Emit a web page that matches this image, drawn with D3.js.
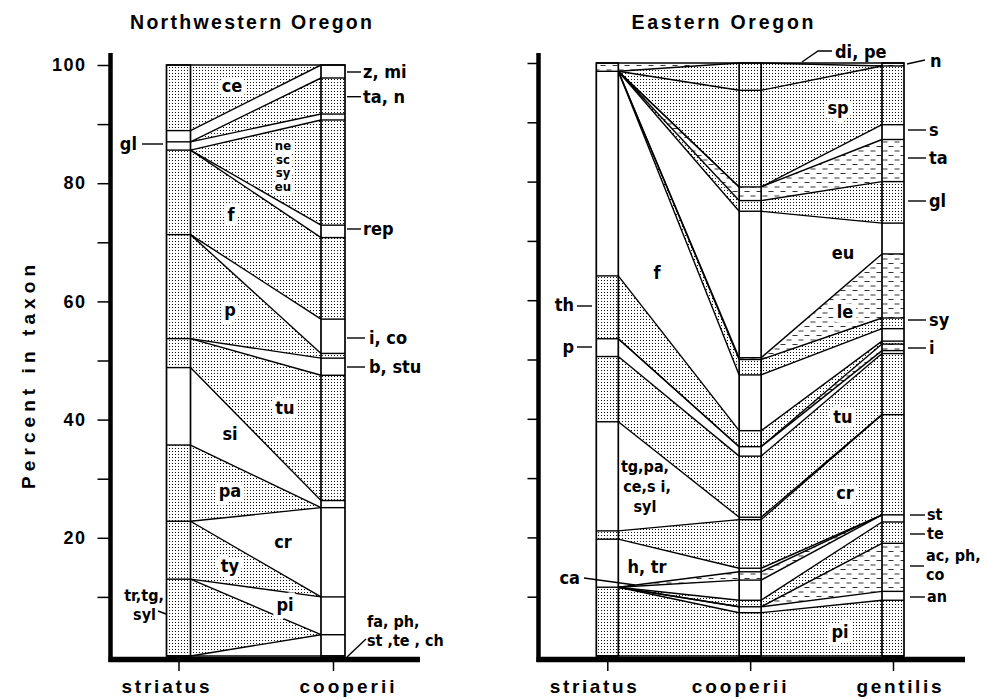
<!DOCTYPE html>
<html><head><meta charset="utf-8">
<script src="https://cdn.jsdelivr.net/npm/d3@7"></script>
<style>body{margin:0;background:#fff}</style>
</head><body>
<svg id="c" width="987" height="699"></svg>
<script>
// ---------------- DATA ----------------
// Northwestern Oregon: taxa stacked bottom -> top, percent in each hawk species
const nwSpecies = ["striatus", "cooperii"];
const nwTaxa = ["fa, ph, st, te, ch", "tr, tg, syl", "pi", "ty", "cr", "pa", "si", "tu", "b, stu", "p", "i, co", "f", "rep", "ne, sc, sy, eu", "gl", "ta, n", "z, mi", "ce"];
const nwStriatus = [0, 13.0, 0, 9.8, 0, 12.9, 13.1, 4.9, 0, 17.6, 0, 14.3, 0, 0, 1.4, 0, 1.9, 11.1];
const nwCooperii = [3.6, 0, 6.4, 0, 15.1, 0, 1.2, 21.2, 2.9, 0.8, 5.8, 13.8, 2.1, 17.8, 1.0, 6.1, 2.2, 0];
const nwShade = ["none","dot","none","dot","none","dot","none","dot","none","dot","none","dot","none","dot","none","dot","none","dot"];

// Eastern Oregon
const eoSpecies = ["striatus", "cooperii", "gentilis"];
const eoTaxa = ["pi","an","ac, ph, co","te","st","ca","h, tr","cr","tg, pa, ce, si, syl","tu","p","i","th","f","sy","le","eu","gl","ta","s","sp","di, pe","n"];
const eoStriatus = [11.6,0,0,0,0,0,8.1,1.4,18.4,11.0,3.0,0,10.6,34.5,0,0,0,0,0,0,0,0,1.4];
const eoCooperii = [7.3,1.0,0,1.1,3.4,1.4,0.6,8.2,0.4,10.3,1.6,0,2.7,9.4,2.6,0.3,24.7,1.8,2.3,0,16.3,4.6,0];
const eoGentilis = [9.4,1.5,8.1,3.6,1.2,0,0,16.9,0,10.3,0.5,1.1,0.5,2.1,1.8,10.8,5.2,7.0,7.1,2.5,9.9,0,0.5];
const eoShade = ["dot","none","dash","dot","none","dash","none","dot","none","dot","none","dash","dot","none","dot","dash","none","dot","dash","none","dot","dot","dash"];

const yTicks = [10,20,30,40,50,60,70,80,90,100];

// ---------------- DRAW ----------------
const svg = d3.select("#c");
const defs = svg.append("defs");
const pd = defs.append("pattern").attr("id","pdot").attr("width",3).attr("height",3).attr("patternUnits","userSpaceOnUse");
pd.append("rect").attr("width",3).attr("height",3).attr("fill","#fff");
pd.append("rect").attr("x",1).attr("y",1).attr("width",1).attr("height",1).attr("fill","#111");
const pdh = defs.append("pattern").attr("id","pdash").attr("width",12).attr("height",9).attr("patternUnits","userSpaceOnUse");
pdh.append("rect").attr("width",12).attr("height",9).attr("fill","#fff");
pdh.append("path").attr("d","M0.5,2.5H5.5M6.5,7H11.5").attr("stroke","#333").attr("stroke-width",1.1);
const fillOf = s => s==="dot" ? "url(#pdot)" : s==="dash" ? "url(#pdash)" : "#fff";

const LBL = "'Liberation Sans Narrow','DejaVu Sans Condensed','Arial Narrow',sans-serif";
const MAIN = "'Liberation Sans',Arial,sans-serif";

function drawPanel(opt) {
  const g = svg.append("g");
  const x = d3.scalePoint().domain(opt.species).range(opt.xr);
  const y = d3.scaleLinear().domain([0,100]).range(opt.yr);
  const bw = opt.bw;
  const stacks = opt.cols.map(v => { const c=[0]; v.forEach(d => c.push(c[c.length-1]+d)); return c; });
  const link = d3.line();
  // ribbons
  for (let i=0;i<opt.species.length-1;i++) {
    const x0 = x(opt.species[i]) + bw/2, x1 = x(opt.species[i+1]) - bw/2;
    const a = stacks[i], b = stacks[i+1];
    opt.shade.forEach((s,k) => {
      g.append("path")
        .attr("d", link([[x0,y(a[k])],[x1,y(b[k])],[x1,y(b[k+1])],[x0,y(a[k+1])]]) + "Z")
        .attr("fill", fillOf(s));
    });
    a.forEach((v,k) => {
      g.append("path").attr("d", link([[x0,y(a[k])],[x1,y(b[k])]]))
        .attr("stroke","#000").attr("stroke-width",1.4).attr("fill","none");
    });
  }
  // bars
  opt.species.forEach((sp,i) => {
    const xc = x(sp), st = stacks[i];
    opt.shade.forEach((s,k) => {
      if (opt.cols[i][k] > 0)
        g.append("rect").attr("x", xc-bw/2).attr("y", y(st[k+1]))
          .attr("width", bw).attr("height", y(st[k]) - y(st[k+1])).attr("fill", fillOf(s));
    });
    Array.from(new Set(st.map(v => +v.toFixed(3)))).forEach(v => {
      g.append("line").attr("x1", xc-bw/2).attr("x2", xc+bw/2).attr("y1", y(v)).attr("y2", y(v))
        .attr("stroke","#000").attr("stroke-width",1.4);
    });
    g.append("rect").attr("x", xc-bw/2).attr("y", y(100)).attr("width", bw).attr("height", y(0)-y(100))
      .attr("fill","none").attr("stroke","#000").attr("stroke-width",1.7);
  });
  // y axis
  const ax = d3.axisLeft(y).tickValues(yTicks).tickSize(opt.tickLen).tickPadding(11)
    .tickFormat(d => opt.showLabels && d % 20 === 0 ? d : "");
  const ag = g.append("g").attr("transform", `translate(${opt.axX},0)`).call(ax);
  ag.select(".domain").remove();
  ag.selectAll(".tick line").attr("stroke-width",1.5);
  ag.selectAll(".tick text").attr("font-family", MAIN).attr("font-weight","bold")
    .attr("font-size",18).attr("letter-spacing",1.5).attr("fill","#000");
  g.append("line").attr("x1",opt.axX).attr("x2",opt.axX).attr("y1",53).attr("y2",662)
    .attr("stroke","#000").attr("stroke-width",4.5);
  // x axis
  const bx = d3.axisBottom(x).tickSize(9).tickFormat("");
  const bg = g.append("g").attr("transform","translate(0,662)").call(bx);
  bg.select(".domain").remove();
  bg.selectAll(".tick line").attr("stroke-width",1.5);
  g.append("line").attr("x1",opt.axX-2).attr("x2",opt.axEnd).attr("y1",659.5).attr("y2",659.5)
    .attr("stroke","#000").attr("stroke-width",5.5);
  opt.species.forEach((sp,i) => {
    g.append("text").attr("x", x(sp) + opt.nameDx[i]).attr("y", 693).attr("text-anchor","middle")
      .attr("font-family", MAIN).attr("font-weight","bold").attr("font-size",19)
      .attr("textLength", opt.nameLen[i]).attr("lengthAdjust","spacing").text(sp);
  });
  // title
  g.append("text").attr("x", opt.titleX).attr("y", 29).attr("text-anchor","middle")
    .attr("font-family", MAIN).attr("font-weight","bold").attr("font-size",19.5)
    .attr("textLength", opt.titleLen).attr("lengthAdjust","spacing").text(opt.title);
  return g;
}

const gL = drawPanel({species: nwSpecies, cols: [nwStriatus, nwCooperii], shade: nwShade,
  xr: [178.5, 333], yr: [656, 65], bw: 24, axX: 110.5, axEnd: 420, tickLen: 13, showLabels: true,
  nameDx: [-13, 14], nameLen: [88, 95], title: "Northwestern Oregon", titleX: 251, titleLen: 242});
const gR = drawPanel({species: eoSpecies, cols: [eoStriatus, eoCooperii, eoGentilis], shade: eoShade,
  xr: [607.3, 893], yr: [656, 63], bw: 22, axX: 538.5, axEnd: 965, tickLen: 11, showLabels: false,
  nameDx: [-14, -11, 6], nameLen: [87, 95, 85], title: "Eastern Oregon", titleX: 722.5, titleLen: 182});

// y title
svg.append("text").attr("transform","translate(35,377) rotate(-90)").attr("text-anchor","middle")
  .attr("font-family", MAIN).attr("font-weight","bold").attr("font-size",19)
  .attr("textLength",224).attr("lengthAdjust","spacing").text("Percent in taxon");

// ---------------- ANNOTATIONS ----------------
function lbl(t, x, yc, anchor, halo, size) {
  const fs = size || 18;
  svg.append("text").attr("x", x).attr("y", yc + fs/3).attr("text-anchor", anchor || "middle")
    .attr("font-family", LBL).attr("font-weight","bold").attr("font-size", fs)
    .attr("stroke", halo ? "#fff" : "none").attr("stroke-width", halo ? 9 : 0)
    .attr("stroke-linejoin","round").attr("paint-order","stroke").attr("fill","#000").text(t);
}
function ptr(pts) {
  svg.append("path").attr("d", d3.line()(pts)).attr("fill","none").attr("stroke","#000").attr("stroke-width",1.4);
}
// Northwestern Oregon interior labels
[["ce",232,86],["f",231,215],["p",230,310],["tu",285,408],["si",230,434],["pa",230,491],
 ["cr",283,542],["ty",230,566],["pi",285,605]].forEach(d => lbl(d[0], d[1], d[2], "middle", true));
// stacked "ne sc sy eu" as one text block
const stk = svg.append("text").attr("x",283).attr("y",150).attr("text-anchor","middle")
  .attr("font-family", LBL).attr("font-weight","bold").attr("font-size",13)
  .attr("stroke","#fff").attr("stroke-width",7).attr("stroke-linejoin","round").attr("paint-order","stroke");
["ne","sc","sy","eu"].forEach((t,i) => stk.append("tspan").attr("x",283).attr("dy", i ? 13.5 : 0).text(t));
// NW side labels
[["z, mi",72,361,363],["ta, n",96.7,361,363],["rep",229,361,363],["i, co",338,365,369],["b, stu",367,365,369]]
  .forEach(d => { ptr([[347,d[1]],[d[2],d[1]]]); lbl(d[0], d[3], d[1], "start"); });
lbl("fa, ph,", 367, 622, "start", false, 16); lbl("st ,te , ch", 367, 641, "start", false, 16); ptr([[347,657],[366,639]]);
lbl("gl", 137, 144, "end"); ptr([[142,144],[163,144]]);
lbl("tr,tg,", 164, 596, "end", false, 16); lbl("syl", 156, 615, "end", false, 16); ptr([[158,611],[166,614]]);

// Eastern Oregon interior labels
[["f",657,273],["sp",838,108],["eu",843,253],["le",845,312],["tu",843,417],["cr",845,493],["pi",840,632],
 ["h, tr",647,567]].forEach(d => lbl(d[0], d[1], d[2], "middle", true));
[["tg,pa,",645,467],["ce,s i,",647,487],["syl",645,507]].forEach(d => lbl(d[0], d[1], d[2], "middle", false, 16));
// EO side labels (right)
[["s",130],["ta",158],["gl",201],["sy",320],["i",348]]
  .forEach(d => { ptr([[908,d[1]],[926,d[1]]]); lbl(d[0], 929, d[1], "start"); });
lbl("n", 930, 61, "start"); ptr([[907,64],[925,60]]);
[["st",515],["te",534],["an",597]].forEach(d => { ptr([[910,d[1]],[925,d[1]]]); lbl(d[0], 927, d[1], "start", false, 16); });
lbl("ac, ph,", 926, 556, "start", false, 16); lbl("co", 926, 575, "start", false, 16); ptr([[910,566],[924,566]]);
lbl("di, pe", 835, 52, "start"); ptr([[832,51],[818,51],[802,62]]);
// EO side labels (left)
lbl("th", 574, 305, "end"); ptr([[577,306],[592,306]]);
lbl("p", 574, 347, "end"); ptr([[577,347],[592,347]]);
lbl("ca", 580, 578, "end"); ptr([[584,578],[635,585]]);
</script>
</body></html>
